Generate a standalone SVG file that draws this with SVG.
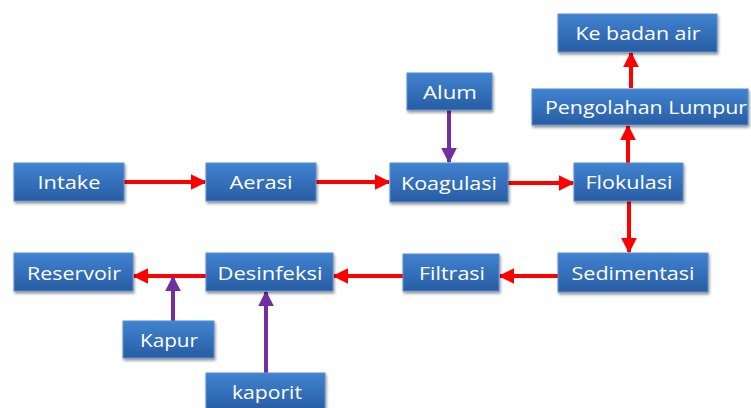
<svg xmlns="http://www.w3.org/2000/svg" width="751" height="408" viewBox="0 0 751 408">
<defs>
<linearGradient id="g" x1="0" y1="0" x2="0" y2="1">
<stop offset="0" stop-color="#4183cf"/>
<stop offset="0.5" stop-color="#3470bb"/>
<stop offset="1" stop-color="#285da3"/>
</linearGradient>
<filter id="sh" x="-10%" y="-20%" width="130%" height="160%">
<feGaussianBlur in="SourceAlpha" stdDeviation="1.5"/>
<feOffset dx="1" dy="2" result="b"/>
<feComponentTransfer><feFuncA type="linear" slope="0.45"/></feComponentTransfer>
<feMerge><feMergeNode/><feMergeNode in="SourceGraphic"/></feMerge>
</filter>
<marker id="ar" viewBox="0 0 10 10" refX="9" refY="5" markerWidth="4" markerHeight="4" orient="auto" markerUnits="strokeWidth">
<path d="M0,0 L10,5 L0,10 z" fill="#ff0000"/>
</marker>
<marker id="ap" viewBox="0 0 10 10" refX="9" refY="5" markerWidth="4" markerHeight="4" orient="auto" markerUnits="strokeWidth">
<path d="M0,0 L10,5 L0,10 z" fill="#7030a0"/>
</marker>
</defs>
<style>
.box{fill:url(#g);stroke:#5a8fd2;stroke-width:1;filter:url(#sh)}
.t{font-family:"Open Sans","Liberation Sans",sans-serif;font-size:19px;fill:#ffffff;text-anchor:middle}
.r{stroke:#ff0000;stroke-width:4;fill:none;marker-end:url(#ar)}
.p{stroke:#7030a0;stroke-width:4;fill:none;marker-end:url(#ap)}
</style>
<rect width="751" height="408" fill="#ffffff"/>
<g id="connectors">
<line class="r" x1="124" y1="182" x2="205" y2="182"/>
<line class="r" x1="316" y1="182" x2="389" y2="182"/>
<line class="r" x1="508" y1="183" x2="573" y2="183"/>
<line class="r" x1="628" y1="163" x2="628" y2="126"/>
<line class="r" x1="631" y1="88" x2="631" y2="53"/>
<line class="r" x1="629" y1="201" x2="629" y2="252"/>
<line class="r" x1="558" y1="276" x2="500" y2="276"/>
<line class="r" x1="403" y1="276" x2="334" y2="276"/>
<line class="r" x1="206" y1="276" x2="134" y2="276"/>
<line class="p" x1="449" y1="110" x2="449" y2="162"/>
<line class="p" x1="173" y1="321" x2="173" y2="277"/>
<line class="p" x1="266" y1="373" x2="266" y2="292"/>
</g>
<g id="intake"><rect class="box" x="14" y="163" width="110" height="38"/><text class="t" x="69" y="189" textLength="63" lengthAdjust="spacingAndGlyphs">Intake</text></g>
<g id="aerasi"><rect class="box" x="206" y="163" width="110" height="38"/><text class="t" x="261" y="189" textLength="63" lengthAdjust="spacingAndGlyphs">Aerasi</text></g>
<g id="koagulasi"><rect class="box" x="390" y="163" width="118" height="39"/><text class="t" x="449" y="190" textLength="96" lengthAdjust="spacingAndGlyphs">Koagulasi</text></g>
<g id="flokulasi"><rect class="box" x="574" y="163" width="109" height="38"/><text class="t" x="629" y="189" textLength="87" lengthAdjust="spacingAndGlyphs">Flokulasi</text></g>
<g id="alum"><rect class="box" x="407" y="73" width="85" height="37"/><text class="t" x="450" y="99" textLength="54" lengthAdjust="spacingAndGlyphs">Alum</text></g>
<g id="pengolahan-lumpur"><rect class="box" x="532" y="89" width="216" height="36"/><text class="t" x="646" y="114" textLength="202" lengthAdjust="spacingAndGlyphs">Pengolahan Lumpur</text></g>
<g id="ke-badan-air"><rect class="box" x="558" y="14" width="159" height="38"/><text class="t" x="638" y="40" textLength="125" lengthAdjust="spacingAndGlyphs">Ke badan air</text></g>
<g id="sedimentasi"><rect class="box" x="558" y="253" width="150" height="39"/><text class="t" x="633" y="280" textLength="123" lengthAdjust="spacingAndGlyphs">Sedimentasi</text></g>
<g id="filtrasi"><rect class="box" x="403" y="254" width="96" height="37"/><text class="t" x="452" y="280" textLength="66" lengthAdjust="spacingAndGlyphs">Filtrasi</text></g>
<g id="desinfeksi"><rect class="box" x="206" y="253" width="127" height="38"/><text class="t" x="270" y="280" textLength="105" lengthAdjust="spacingAndGlyphs">Desinfeksi</text></g>
<g id="reservoir"><rect class="box" x="14" y="253" width="119" height="38"/><text class="t" x="74" y="280" textLength="94" lengthAdjust="spacingAndGlyphs">Reservoir</text></g>
<g id="kapur"><rect class="box" x="123" y="321" width="91" height="37"/><text class="t" x="169" y="347" textLength="58" lengthAdjust="spacingAndGlyphs">Kapur</text></g>
<g id="kaporit"><rect class="box" x="206" y="373" width="119" height="38"/><text class="t" x="267" y="399" textLength="70" lengthAdjust="spacingAndGlyphs">kaporit</text></g>
</svg>
